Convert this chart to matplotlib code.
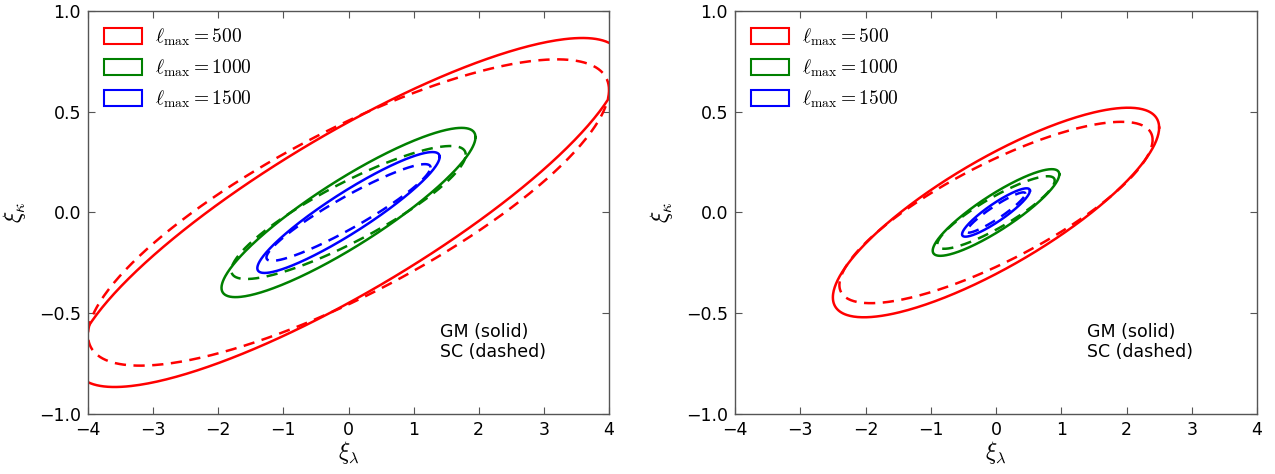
import numpy as np
import matplotlib
matplotlib.use("Agg")
import matplotlib.pyplot as plt
from matplotlib.patches import Patch

plt.rcParams['mathtext.fontset'] = 'cm'
plt.rcParams['font.family'] = 'DejaVu Sans'

# ellipse bounding half-widths (x, y) and correlation, per lmax
lmax = [500, 1000, 1500]
colors = ['r', 'g', 'b']

# left panel
left_gm_sx = [4.20, 1.95, 1.40]
left_gm_sy = [0.866, 0.42, 0.30]
left_gm_rho = [0.855, 0.89, 0.92]
left_sc_sx = [4.00, 1.80, 1.26]
left_sc_sy = [0.76, 0.33, 0.24]
left_sc_rho = [0.80, 0.87, 0.93]

# right panel
right_gm_sx = [2.50, 0.97, 0.52]
right_gm_sy = [0.52, 0.215, 0.12]
right_gm_rho = [0.81, 0.88, 0.90]
right_sc_sx = [2.40, 0.90, 0.45]
right_sc_sy = [0.45, 0.18, 0.10]
right_sc_rho = [0.80, 0.88, 0.93]

panels = [
    (left_gm_sx, left_gm_sy, left_gm_rho, left_sc_sx, left_sc_sy, left_sc_rho),
    (right_gm_sx, right_gm_sy, right_gm_rho, right_sc_sx, right_sc_sy, right_sc_rho),
]

t = np.linspace(0, 2 * np.pi, 400)


def ellipse(sx, sy, rho):
    x = sx * np.cos(t)
    y = sy * (rho * np.cos(t) + np.sqrt(1 - rho ** 2) * np.sin(t))
    return x, y


fig = plt.figure(figsize=(12.75, 4.74), dpi=100)
axes = [fig.add_axes([88 / 1275, 60 / 474, 521 / 1275, 403 / 474]),
        fig.add_axes([735 / 1275, 60 / 474, 522 / 1275, 403 / 474])]

for ax, (gsx, gsy, grho, ssx, ssy, srho) in zip(axes, panels):
    for i in range(len(lmax)):
        x, y = ellipse(gsx[i], gsy[i], grho[i])
        ax.plot(x, y, color=colors[i], lw=1.8)
        x, y = ellipse(ssx[i], ssy[i], srho[i])
        ax.plot(x, y, color=colors[i], lw=1.8, ls='--', dashes=(4.5, 3))
    ax.set_xlim(-4, 4)
    ax.set_ylim(-1, 1)
    ax.set_xticks(range(-4, 5))
    ax.set_yticks([-1.0, -0.5, 0.0, 0.5, 1.0])
    ax.tick_params(direction='in', top=True, right=True, labelsize=12.5, length=5,
                   color='#555555', pad=5)
    for s in ax.spines.values():
        s.set_color('#555555')
        s.set_linewidth(1.0)
    ax.set_xlabel(r'$\xi_\lambda$', fontsize=17, labelpad=0)
    ax.set_ylabel(r'$\xi_\kappa$', fontsize=17, labelpad=8)
    handles = [Patch(facecolor='none', edgecolor=c, lw=1.5) for c in colors]
    labels = [r'$\ell_{\rm max} = %d$' % l for l in lmax]
    ax.legend(handles, labels, loc='upper left', frameon=False, fontsize=14,
              handlelength=2.0, handleheight=0.85, labelspacing=0.5,
              borderaxespad=0.4, handletextpad=0.65)
    ax.text(1.4, -0.55, 'GM (solid)\nSC (dashed)', fontsize=12.5, va='top',
            linespacing=1.15)

fig.savefig('out.png', dpi=100)
